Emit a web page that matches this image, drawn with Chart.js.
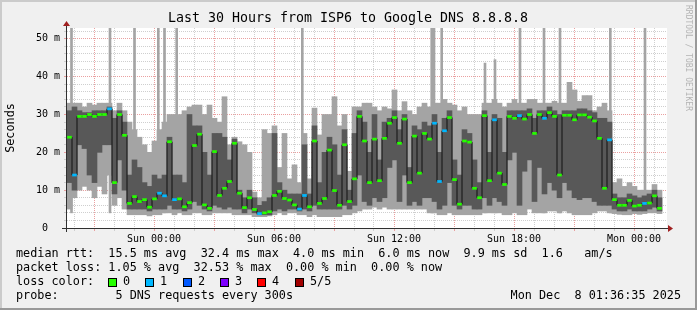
<!DOCTYPE html>
<html>
<head>
<meta charset="utf-8">
<script src="https://cdn.jsdelivr.net/npm/chart.js@4.4.1/dist/chart.umd.min.js"></script>
<style>
html, body { margin: 0; padding: 0; background: #f0f0f0; }
canvas { display: block; }
</style>
</head>
<body>
<canvas id="chart" width="697" height="310"></canvas>
<script>
// hours relative to Sun 00:00, one smoke column every 15 min
var startHour = -4.35;
var endHour = 25.65;
var stepHours = 0.25;

// sorted ping values per column (ms)
var pingMax = [33, 33, 33, 32, 33, 32.5, 33, 33, 33, 31, 33, 31, 28, 26, 24, 22, 20, 23, 26, 28, 30, 30, 30, 31,
    32, 32.5, 32.5, 30, 32.5, 29, 28, 34.7, 22, 24, 22.8, 22, 20, 9.5, 8, 26, 25, 27, 16, 25, 13, 16.7, 12, 25,
    13, 31.7, 24.6, 30, 30, 34.7, 27, 30, 15, 32, 32, 33, 33, 32, 31, 32, 31.5, 36.5, 31, 33.4, 31, 30, 32, 33,
    32, 33, 33, 34, 33, 32.5, 31, 32, 30, 30, 30, 33, 33, 34, 33, 32, 33, 34, 33, 33, 34, 34, 33, 33,
    33, 33.5, 33, 33, 38.5, 36.5, 33.5, 35, 35, 31, 32, 33, 31, 12, 13, 11, 12, 11, 10, 10, 10, 11.5, 10];
var pingHi = [31, 32, 31, 30.5, 30.5, 31, 31, 31, 32, 29, 31, 28, 14, 18, 16, 12, 11, 14, 13, 14, 24, 14, 14, 12,
    30, 27, 27, 20, 14, 25, 25, 24, 18, 23.5, 10, 8, 10, 8, 6, 7, 8, 25, 12, 10, 9, 9, 9, 22,
    9, 27, 12, 20, 24, 22, 14, 26, 10, 25, 31, 28, 20, 30, 18, 28, 29, 31, 26, 30, 16, 27, 26, 28,
    27, 30, 20, 29, 31, 18, 14, 26, 25, 18, 12, 31, 20, 30, 29, 20, 31, 31, 31, 31, 31.5, 29, 31, 31,
    32, 31, 30, 31, 31, 31, 31.5, 31.5, 31, 30.5, 29, 29, 28, 9, 8, 8, 9, 8.5, 8, 8.5, 9, 10, 8];
var pingMed = [24, 14, 29.5, 29.5, 30, 29.5, 30, 30, 31.5, 12, 30, 24.5, 6.5, 8.3, 7, 7.5, 5.5, 7.7, 9.2, 8.5, 22.8, 7.5, 7.7, 5.6,
    6.7, 21.8, 24.8, 6.1, 5.2, 20.2, 8.6, 10.5, 12.3, 22.4, 9.2, 5.4, 8, 4.9, 3.8, 4, 4.3, 8.6, 9.7, 7.8, 7.4, 6.1, 5, 8.6,
    5.6, 23, 6.5, 7.8, 20.6, 9.9, 6, 22, 7, 13, 29.5, 23, 12, 23.5, 12.5, 23.7, 27.7, 29.2, 22.4, 28.8, 12, 24.3, 14.5, 25,
    23.5, 27.7, 12.3, 25.7, 29.2, 12.8, 6.3, 23, 22.7, 10.5, 8, 29.7, 12.5, 28.6, 14.5, 11.5, 29.5, 29, 29.7, 28.8, 30, 25, 30, 29,
    30.5, 29.5, 14, 29.8, 29.8, 28.6, 29.9, 29.9, 29.3, 28.3, 23.7, 10.5, 23.3, 7.5, 6, 6, 7.3, 5.8, 6, 6.5, 6.6, 8.5, 5.2];
var pingLo = [12, 10, 22, 21, 14, 12, 20, 22, 22, 9, 18, 10, 5, 5, 5, 5, 4.5, 5, 5, 5, 6, 5, 5, 4.5,
    5, 7, 6, 5, 4.5, 6, 5.5, 5, 5.5, 5, 5, 4, 5, 4, 3.5, 3.5, 3.5, 4.5, 5, 4.5, 5, 5, 4.5, 5,
    4.5, 6, 5, 5, 5, 5, 5, 6, 5, 6, 14, 7, 6, 8, 7, 8, 16, 18, 7, 14, 6, 7, 6, 8,
    8, 7, 5, 6, 12, 6, 5, 6, 6, 5, 5, 8, 6, 8, 7, 6, 18, 20, 6, 15, 18, 7, 16, 9,
    12, 10, 8, 12, 10, 8, 7.5, 8, 8, 7, 6, 6, 6, 5, 4.5, 4.5, 5, 4.5, 4.5, 4.5, 5, 5.5, 4.5];
var pingMin = [5, 8, 10, 11, 10, 8, 11, 9, 14, 6, 8, 5, 3.5, 3.5, 3.5, 3.5, 3.2, 3.5, 3.5, 4, 4, 3.5, 4, 3.5,
    3.5, 4, 4, 3.5, 3.5, 4, 4, 4, 4, 3.5, 3.5, 3.5, 3.5, 3, 3, 3, 3.2, 3.5, 4, 3.5, 4, 4, 3.5, 3.5,
    3, 3.5, 3, 3, 3, 3, 3, 3.5, 3.5, 4, 4.5, 5, 5, 5.5, 5, 5.5, 5, 5, 5, 5, 5, 5, 5, 5,
    4, 4, 3.5, 3.5, 4, 3.5, 3.5, 3.5, 3.5, 3.5, 3.5, 4, 4, 4, 4, 3.5, 3.5, 4, 3.5, 3.5, 5, 4, 4, 4,
    4.5, 4.5, 4, 4.5, 4, 3.5, 3.5, 3.5, 3.5, 4, 4.5, 4.5, 4, 3.8, 3.6, 3.5, 3.5, 3.8, 3.6, 3.8, 4, 4, 3.8];
// lost pings per column (index into lossColors)
var pingLoss = [0, 1, 0, 0, 0, 0, 0, 0, 1, 0, 0, 0, 0, 0, 0, 0, 0, 0, 1, 1, 0, 1, 0, 0,
    0, 0, 0, 0, 0, 0, 0, 0, 0, 0, 0, 0, 0, 0, 1, 0, 0, 0, 0, 0, 0, 0, 1, 1,
    0, 0, 0, 0, 0, 0, 0, 0, 0, 0, 0, 0, 0, 0, 0, 0, 0, 0, 0, 0, 0, 0, 0, 0,
    0, 1, 1, 1, 0, 0, 0, 0, 0, 0, 0, 0, 0, 1, 0, 0, 0, 0, 1, 0, 0, 0, 0, 1,
    0, 0, 0, 0, 0, 0, 0, 0, 0, 0, 0, 0, 1, 0, 0, 0, 0, 0, 0, 1, 0, 0, 0];

// single samples that shot far above the smoke
var spikeHours = [-4.125, -2.2, -0.975, 0.215, 0.525, 1.135, 7.415, 13.885, 14.0, 14.385, 16.55, 17.05, 18.3, 19.5, 20.3, 22.815, 24.55];
var spikeTop = [52.9, 52.9, 52.9, 52.9, 52.9, 52.9, 52.9, 52.9, 52.9, 52.9, 43.6, 44.5, 52.9, 52.9, 52.9, 52.9, 52.9];

var xTickHours = [0, 6, 12, 18, 24];
var xTickLabels = ['Sun 00:00', 'Sun 06:00', 'Sun 12:00', 'Sun 18:00', 'Mon 00:00'];
var yTickValues = [0, 10, 20, 30, 40, 50];
var yTickLabels = ['0  ', '10 m', '20 m', '30 m', '40 m', '50 m'];
var yMax = 52.87;

var lossColors = ['#26ff00', '#00b8ff', '#0059ff', '#7e00ff', '#ff0000', '#a10000'];
var lossLabels = ['0', '1', '2', '3', '4', '5/5'];

var titleText = 'Last 30 Hours from ISP6 to Google DNS 8.8.8.8';
var statLines = [
    'median rtt:  15.5 ms avg  32.4 ms max  4.0 ms min  6.0 ms now  9.9 ms sd  1.6   am/s',
    'packet loss: 1.05 % avg  32.53 % max  0.00 % min  0.00 % now'
];
var probeText = 'probe:        5 DNS requests every 300s';
var stampText = 'Mon Dec  8 01:36:35 2025';

var mono = '"DejaVu Sans Mono", "Liberation Mono", monospace';

var stepTimes = pingMed.map(function(v, i) { return startHour + stepHours * (i + 0.5); });

function band(lo, hi) {
    return stepTimes.map(function(t, i) { return { x: t, y: [lo[i], hi[i]] }; });
}

var gridHours = [];
for (let h = -4; h <= 25; h++) gridHours.push(h);
var gridMs = [];
for (let v = 0; v <= 52; v += 2) gridMs.push(v);

var rrdDecor = {
    id: 'rrdDecor',
    beforeDraw: function(chart) {
        const ctx = chart.ctx;
        const a = chart.chartArea;
        ctx.save();
        ctx.fillStyle = '#f0f0f0';
        ctx.fillRect(0, 0, chart.width, chart.height);
        ctx.fillStyle = '#cbcbcb';
        ctx.fillRect(0, 0, chart.width, 2);
        ctx.fillRect(0, 0, 2, chart.height);
        ctx.fillStyle = '#999999';
        ctx.fillRect(0, chart.height - 2, chart.width, 2);
        ctx.fillRect(chart.width - 2, 0, 2, chart.height);
        ctx.fillStyle = '#ffffff';
        ctx.fillRect(a.left, a.top, a.right - a.left, a.bottom - a.top);
        ctx.restore();
    },
    afterDraw: function(chart) {
        const ctx = chart.ctx;
        const a = chart.chartArea;
        ctx.save();
        // axes with arrows
        ctx.strokeStyle = '#303030';
        ctx.lineWidth = 1;
        ctx.beginPath();
        ctx.moveTo(a.left - 5, a.bottom + 0.5);
        ctx.lineTo(a.right + 3, a.bottom + 0.5);
        ctx.moveTo(a.left - 0.5, a.bottom + 4);
        ctx.lineTo(a.left - 0.5, a.top - 3);
        ctx.stroke();
        ctx.fillStyle = '#a02020';
        ctx.beginPath();
        ctx.moveTo(a.right + 1, a.bottom - 3);
        ctx.lineTo(a.right + 6, a.bottom + 0.5);
        ctx.lineTo(a.right + 1, a.bottom + 4);
        ctx.fill();
        ctx.beginPath();
        ctx.moveTo(a.left - 4, a.top - 2);
        ctx.lineTo(a.left - 0.5, a.top - 7);
        ctx.lineTo(a.left + 3, a.top - 2);
        ctx.fill();

        ctx.fillStyle = '#000';
        ctx.textBaseline = 'middle';
        ctx.textAlign = 'center';
        ctx.font = '13.3px ' + mono;
        ctx.fillText(titleText, 348, 18.5);

        ctx.font = '11.8px ' + mono;
        ctx.save();
        ctx.translate(11, (a.top + a.bottom) / 2);
        ctx.rotate(-Math.PI / 2);
        ctx.fillText('Seconds', 0, 0);
        ctx.restore();

        ctx.save();
        ctx.fillStyle = '#b4b4b4';
        ctx.font = '8px ' + mono;
        ctx.textAlign = 'left';
        ctx.translate(688, 5);
        ctx.rotate(Math.PI / 2);
        ctx.fillText('RRDTOOL / TOBI OETIKER', 0, 0);
        ctx.restore();

        ctx.textAlign = 'left';
        ctx.fillText(statLines[0], 16, 254);
        ctx.fillText(statLines[1], 16, 268);
        ctx.fillText('loss color:', 16, 282);
        lossLabels.forEach(function(lab, k) {
            const bx = Math.round(108 + k * 37.3);
            ctx.fillStyle = lossColors[k];
            ctx.fillRect(bx, 278, 9, 9);
            ctx.strokeStyle = '#000';
            ctx.strokeRect(bx + 0.5, 278.5, 8, 8);
            ctx.fillStyle = '#000';
            ctx.fillText(lab, bx + 15, 282);
        });
        ctx.fillText(probeText, 16, 296);
        ctx.textAlign = 'right';
        ctx.fillText(stampText, 681, 296);
        ctx.restore();
    }
};

new Chart(document.getElementById('chart'), {
    type: 'bar',
    data: {
        datasets: [
            {
                // median marks coloured by loss
                data: stepTimes.map(function(t, i) { return { x: t, y: [pingMed[i] - 0.27, pingMed[i] + 0.27] }; }),
                backgroundColor: function(c) { return lossColors[pingLoss[c.dataIndex]] || lossColors[0]; },
                barThickness: 4,
                grouped: false,
                order: 0
            },
            {
                type: 'line',
                data: stepTimes.map(function(t, i) { return { x: t, y: pingMed[i] }; }),
                stepped: 'middle',
                borderColor: '#101010',
                borderWidth: 1,
                pointRadius: 0,
                fill: false,
                order: 1
            },
            {
                data: band(pingLo, pingHi),
                backgroundColor: '#585858',
                barThickness: 5,
                grouped: false,
                order: 2
            },
            {
                data: band(pingMin, pingMax),
                backgroundColor: '#a4a4a4',
                barThickness: 5,
                grouped: false,
                order: 3
            },
            {
                data: spikeHours.map(function(t, i) { return { x: t, y: [4, spikeTop[i]] }; }),
                backgroundColor: '#a4a4a4',
                barThickness: 2,
                grouped: false,
                order: 4
            }
        ]
    },
    options: {
        responsive: false,
        devicePixelRatio: 1,
        animation: false,
        events: [],
        layout: { padding: { left: 0, right: 30, top: 28, bottom: 0 } },
        plugins: {
            legend: { display: false },
            tooltip: { enabled: false }
        },
        scales: {
            x: {
                type: 'linear',
                min: startHour,
                max: endHour,
                offset: false,
                afterBuildTicks: function(s) { s.ticks = gridHours.map(function(h) { return { value: h }; }); },
                afterFit: function(s) { s.height = 82; },
                ticks: {
                    autoSkip: false,
                    maxRotation: 0,
                    padding: 2,
                    color: '#000',
                    font: { family: mono, size: 10 },
                    callback: function(v) {
                        const k = xTickHours.indexOf(v);
                        return k >= 0 ? xTickLabels[k] : '';
                    }
                },
                grid: {
                    offset: false,
                    lineWidth: 1,
                    tickLength: 3,
                    color: function(c) { return c.tick && c.tick.value % 3 === 0 ? '#eaa0a0' : '#cfcfcf'; }
                },
                border: { display: false, dash: [1, 1] }
            },
            y: {
                type: 'linear',
                min: 0,
                max: yMax,
                afterBuildTicks: function(s) { s.ticks = gridMs.map(function(v) { return { value: v }; }); },
                afterFit: function(s) { s.width = 67; },
                ticks: {
                    autoSkip: false,
                    padding: 4,
                    color: '#000',
                    font: { family: mono, size: 10 },
                    callback: function(v) {
                        const k = yTickValues.indexOf(v);
                        return k >= 0 ? yTickLabels[k] : '';
                    }
                },
                grid: {
                    lineWidth: 1,
                    tickLength: 3,
                    color: function(c) { return c.tick && c.tick.value % 10 === 0 ? '#eaa0a0' : '#cfcfcf'; }
                },
                border: { display: false, dash: [1, 1] }
            }
        }
    },
    plugins: [rrdDecor]
});
</script>
</body>
</html>
